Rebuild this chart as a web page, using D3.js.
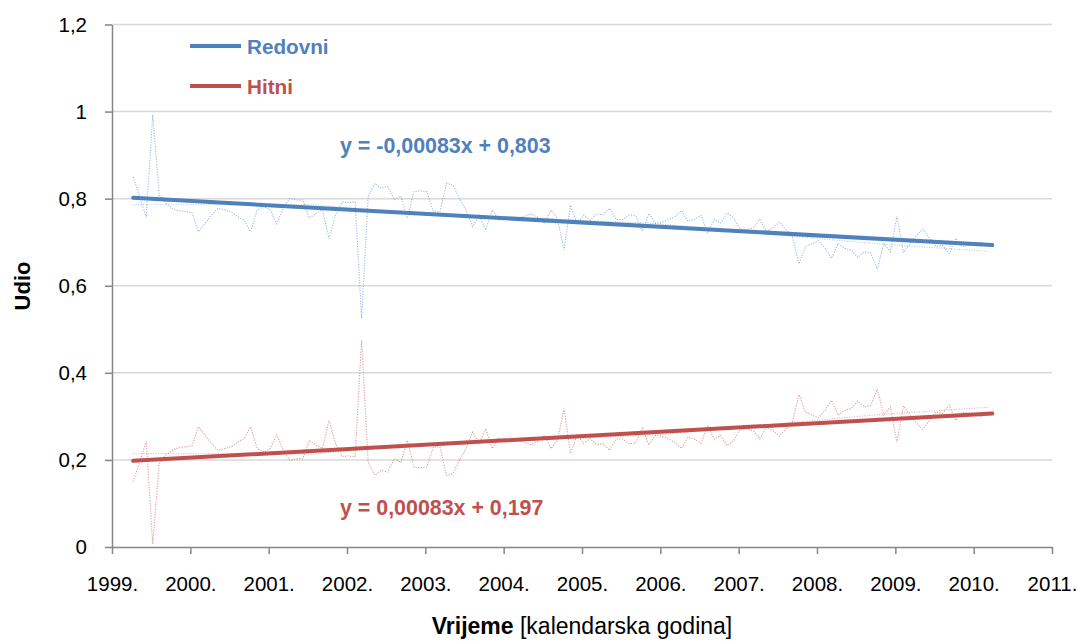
<!DOCTYPE html>
<html>
<head>
<meta charset="utf-8">
<script src="https://cdn.jsdelivr.net/npm/d3@7"></script>
<style>
  html, body { margin: 0; padding: 0; background: #fff; }
  svg { display: block; font-family: "Liberation Sans", Arial, sans-serif; }
</style>
</head>
<body>
<svg id="chart" width="1080" height="641"></svg>
<script>
// ---- data ----
const startYear = 1999.27;          // first monthly observation (decimal year)
const redovni = [
  0.85,0.805,0.757,0.993,0.808,0.789,0.778,0.772,0.77,0.768,0.724,0.743,
  0.762,0.778,0.774,0.77,0.759,0.751,0.724,0.774,0.782,0.774,0.742,0.778,
  0.801,0.797,0.797,0.755,0.766,0.774,0.709,0.762,0.792,0.791,0.793,0.525,
  0.805,0.835,0.824,0.828,0.797,0.806,0.755,0.816,0.818,0.816,0.77,0.77,
  0.835,0.831,0.80,0.774,0.736,0.762,0.728,0.774,0.751,0.759,0.755,0.755,
  0.76,0.765,0.757,0.743,0.774,0.755,0.682,0.785,0.743,0.762,0.751,0.765,
  0.763,0.778,0.752,0.752,0.763,0.761,0.725,0.766,0.744,0.746,0.752,0.759,
  0.773,0.748,0.752,0.762,0.721,0.752,0.744,0.767,0.756,0.730,0.729,0.733,
  0.752,0.725,0.733,0.746,0.729,0.713,0.650,0.69,0.697,0.703,0.686,0.663,
  0.697,0.686,0.682,0.665,0.678,0.675,0.638,0.697,0.678,0.76,0.676,0.697,
  0.716,0.73,0.709,0.69,0.693,0.674,0.709,0.69,0.693,0.697,0.70,0.69
];
const hitni = [
  0.15,0.195,0.243,0.007,0.192,0.211,0.222,0.228,0.23,0.232,0.276,0.257,
  0.238,0.222,0.226,0.23,0.241,0.249,0.276,0.226,0.218,0.226,0.258,0.222,
  0.199,0.203,0.203,0.245,0.234,0.226,0.291,0.238,0.208,0.209,0.207,0.475,
  0.195,0.165,0.176,0.172,0.203,0.194,0.245,0.184,0.182,0.184,0.23,0.23,
  0.165,0.169,0.20,0.226,0.264,0.238,0.272,0.226,0.249,0.241,0.245,0.245,
  0.24,0.235,0.243,0.257,0.226,0.245,0.318,0.215,0.257,0.238,0.249,0.235,
  0.237,0.222,0.248,0.248,0.237,0.239,0.275,0.234,0.256,0.254,0.248,0.241,
  0.227,0.252,0.248,0.238,0.279,0.248,0.256,0.233,0.244,0.270,0.271,0.267,
  0.248,0.275,0.267,0.254,0.271,0.287,0.350,0.31,0.303,0.297,0.314,0.337,
  0.303,0.314,0.318,0.335,0.322,0.325,0.362,0.303,0.322,0.24,0.324,0.303,
  0.284,0.27,0.291,0.31,0.307,0.326,0.291,0.31,0.307,0.303,0.30,0.31
];
// faint smoothed helper lines (month index, value)
const smoothIdx     = [0, 28, 40, 60, 80, 100, 115, 131];
const smoothRedovni = [0.786, 0.786, 0.768, 0.755, 0.743, 0.715, 0.695, 0.679];
const smoothHitni   = [0.214, 0.214, 0.232, 0.245, 0.257, 0.285, 0.305, 0.321];
// linear trend coefficients (slope, intercept), x = month number 1..n
const trendRedovni = [-0.00083, 0.803];
const trendHitni   = [0.00083, 0.197];
const seriesNames  = ["Redovni", "Hitni"];
const equationText = ["y = -0,00083x + 0,803", "y = 0,00083x + 0,197"];
const xTickYears = [1999,2000,2001,2002,2003,2004,2005,2006,2007,2008,2009,2010,2011];
const yTickValues = [0,0.2,0.4,0.6,0.8,1,1.2];
const yTickLabels = ["0","0,2","0,4","0,6","0,8","1","1,2"];

// ---- layout ----
const BLUE = "#4F81BD", RED = "#C0504D";
const svg = d3.select("#chart");
const x = d3.scaleLinear().domain([1999, 2011]).range([112, 1052]);
const y = d3.scaleLinear().domain([0, 1.2]).range([547, 24.5]);
const dateOf = i => startYear + i / 12;

// gridlines
svg.append("g").selectAll("line").data(yTickValues.filter(v => v > 0)).join("line")
  .attr("x1", 112).attr("x2", 1052)
  .attr("y1", d => y(d)).attr("y2", d => y(d))
  .attr("stroke", "#D9D9D9").attr("stroke-width", 1.5);

// axes
const xAxis = d3.axisBottom(x).tickValues(xTickYears).tickFormat(d => d + ".")
  .tickSizeInner(7).tickSizeOuter(0).tickPadding(22);
const gx = svg.append("g").attr("transform", `translate(0,${y(0)})`).call(xAxis);
gx.select(".domain").attr("stroke", "#868686").attr("stroke-width", 1.5);
gx.selectAll(".tick line").attr("stroke", "#868686").attr("stroke-width", 1.5);
gx.selectAll("text").attr("font-size", 20.5).attr("fill", "#000")
  .attr("font-family", "Liberation Sans, Arial, sans-serif");

const yAxis = d3.axisLeft(y).tickValues(yTickValues)
  .tickFormat((d, i) => yTickLabels[i]).tickSizeInner(7).tickSizeOuter(0).tickPadding(18);
const gy = svg.append("g").attr("transform", `translate(${x(1999)},0)`).call(yAxis);
gy.select(".domain").attr("stroke", "#868686").attr("stroke-width", 1.5);
gy.selectAll(".tick line").attr("stroke", "#868686").attr("stroke-width", 1.5);
gy.selectAll("text").attr("font-size", 20.5).attr("fill", "#000")
  .attr("font-family", "Liberation Sans, Arial, sans-serif");

// data lines
const line = d3.line().x((d, i) => x(dateOf(i))).y(d => y(d));
function dataLine(vals, color) {
  svg.append("path").datum(vals).attr("d", line)
    .attr("fill", "none").attr("stroke", color).attr("stroke-width", 1.1)
    .attr("stroke-dasharray", "1.2,1.4").attr("opacity", 0.55);
}
const sLine = d3.line().x(d => x(dateOf(d[0]))).y(d => y(d[1]));
function smoothLine(vals, color) {
  svg.append("path").datum(smoothIdx.map((k, j) => [k, vals[j]])).attr("d", sLine)
    .attr("fill", "none").attr("stroke", color).attr("stroke-width", 1.1)
    .attr("stroke-dasharray", "1,1.5").attr("opacity", 0.45);
}
smoothLine(smoothRedovni, BLUE);
smoothLine(smoothHitni, RED);
dataLine(redovni, BLUE);
dataLine(hitni, RED);

// trend lines
function trend(coef, n, color) {
  const pts = [1, n].map(m => [dateOf(m - 1), coef[1] + coef[0] * m]);
  svg.append("line")
    .attr("x1", x(pts[0][0])).attr("y1", y(pts[0][1]))
    .attr("x2", x(pts[1][0]) + 4).attr("y2", y(pts[1][1]))
    .attr("stroke", color).attr("stroke-width", 4).attr("stroke-linecap", "round");
}
trend(trendRedovni, redovni.length, BLUE);
trend(trendHitni, hitni.length, RED);

// equations
svg.append("text").attr("x", 340).attr("y", 153).text(equationText[0])
  .attr("fill", BLUE).attr("font-weight", "bold").attr("font-size", 21.4);
svg.append("text").attr("x", 340).attr("y", 515).text(equationText[1])
  .attr("fill", RED).attr("font-weight", "bold").attr("font-size", 21.4);

// legend
[[BLUE, 46], [RED, 86]].forEach(([c, ly], i) => {
  svg.append("line").attr("x1", 190).attr("x2", 241).attr("y1", ly).attr("y2", ly)
    .attr("stroke", c).attr("stroke-width", 4);
  svg.append("text").attr("x", 247).attr("y", ly + 8).text(seriesNames[i])
    .attr("fill", c).attr("font-weight", "bold").attr("font-size", 20.7);
});

// axis titles
svg.append("text").attr("transform", "translate(30,286) rotate(-90)")
  .attr("text-anchor", "middle").attr("font-weight", "bold").attr("font-size", 22)
  .text("Udio");
const xt = svg.append("text").attr("x", 582).attr("y", 634).attr("text-anchor", "middle")
  .attr("font-size", 23);
xt.append("tspan").attr("font-weight", "bold").text("Vrijeme");
xt.append("tspan").text(" [kalendarska godina]");
</script>
</body>
</html>
